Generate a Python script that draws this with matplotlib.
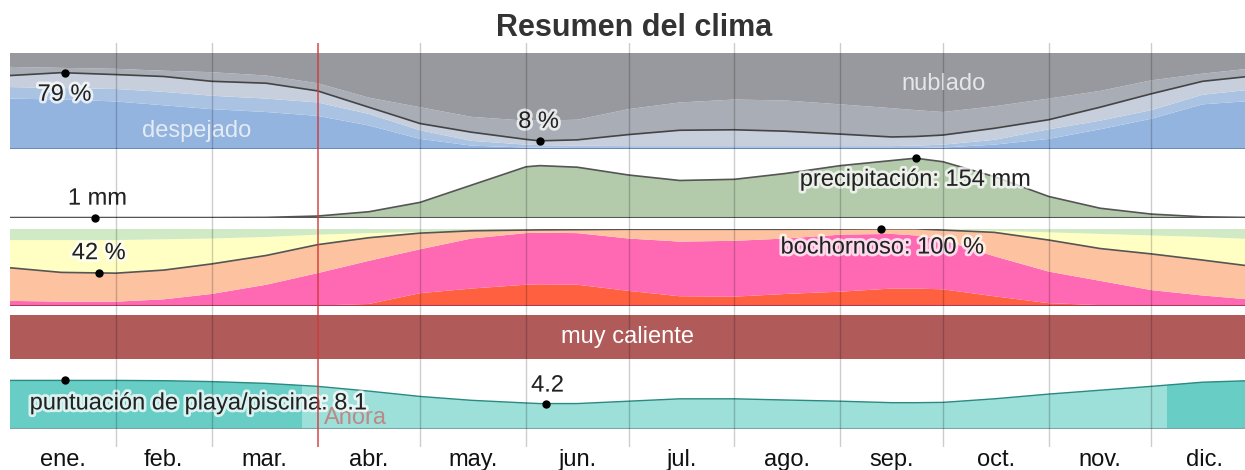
import numpy as np
import matplotlib
matplotlib.use('Agg')
import matplotlib.pyplot as plt
import matplotlib.patheffects as pe
from matplotlib.patches import Rectangle

plt.rcParams['font.family'] = ['Liberation Sans', 'DejaVu Sans']

# dias del año donde se leyeron los valores
days = [0, 15, 31, 45, 59, 75, 90, 105, 120, 135, 151, 155, 166, 181, 196, 212,
        227, 243, 258, 265, 273, 288, 304, 319, 334, 349, 365]

# nubes: limites superiores de cada capa (%)
cloud_clear = [52, 51, 49, 45, 41, 38, 34, 24, 10, 3, 1, 0.8, 0.5, 0.5, 0.5, 0.5,
               0.5, 0.5, 0.5, 0.5, 1, 4, 10, 20, 31, 46, 50]
cloud_mostly_clear = [64, 63, 62, 59, 55, 52, 48, 36, 19, 8, 4, 3.5, 3, 2.5, 2.5, 2.5,
                      2.5, 2.5, 2.5, 3, 4, 9, 20, 29, 40, 56, 62]
cloud_partly = [76, 79, 77, 75, 70, 68, 60, 43, 26, 17, 9.5, 8, 9, 14.5, 19, 19.5,
                18, 15, 12, 12.5, 14, 21, 30, 43, 57, 70, 76]
cloud_mostly_cloudy = [85, 84, 83, 81, 79.5, 76, 68, 53, 43, 33, 29, 29, 30, 41, 48, 51,
                       50, 46, 42, 40, 38, 44, 52, 60, 71, 78, 84]

# precipitacion (mm, 31 dias)
rain = [1, 1, 1, 1, 1, 1.5, 5, 16, 40, 84, 131, 134, 130, 110, 96, 99,
        114, 134, 147, 153, 144, 106, 55, 25, 10, 3, 1]

# humedad: limites superiores (%)
hum_miserable = [0, 0, 0, 0, 0, 0, 0, 2, 16, 22, 27, 27.5, 27, 19, 12, 11.5,
                 15, 18, 22, 22, 21, 12, 3, 0.5, 0, 0, 0]
hum_oppressive = [6, 5, 5, 8, 15, 27, 42, 58, 73, 87, 94, 94.5, 94, 87, 83, 84,
                  87, 92, 93, 91, 85, 64, 44, 32, 20, 13, 7]
hum_muggy = [49, 43, 42, 46, 54, 65, 79, 88, 94, 97, 98, 98.2, 98.5, 99, 99, 99,
             99, 99.3, 99.6, 99.6, 98, 95, 85, 74, 67, 59, 50]
hum_comfortable = [85, 85, 85, 86, 87, 89, 92, 94, 95.5, 97, 99.5, 99.5, 99.5, 99.5, 99.5, 99.5,
                   99.5, 99.5, 99.5, 99.5, 99, 97, 95, 93, 91, 89, 86]

# puntuacion de playa/piscina
beach = [8.1, 8.1, 8.1, 8.05, 7.9, 7.6, 7.1, 6.3, 5.4, 4.75, 4.3, 4.2, 4.2, 4.6, 5.0, 5.0,
         4.8, 4.6, 4.35, 4.35, 4.4, 5.0, 5.8, 6.45, 7.1, 7.8, 8.1]
beach_best = [(0, 85.5), (338.6, 365)]

months = ['ene.', 'feb.', 'mar.', 'abr.', 'may.', 'jun.', 'jul.', 'ago.',
          'sep.', 'oct.', 'nov.', 'dic.']
month_len = [31, 28, 31, 30, 31, 30, 31, 31, 30, 31, 30, 31]
today = 90

W, H = 1245, 470
XMAX = (1245 - 10.07) / 3.417

fig = plt.figure(figsize=(W / 100, H / 100), dpi=100)


def panel(top, bottom):
    ax = fig.add_axes([10 / W, 1 - bottom / H, (W - 10) / W, (bottom - top) / H])
    ax.set_xlim(0, XMAX)
    ax.set_axis_off()
    return ax


halo = [pe.withStroke(linewidth=4, foreground=(1, 1, 1, 0.75))]


def label(ax, x, y, txt, dx, dy, ha='center'):
    ax.plot(x, y, 'o', color='black', ms=5, zorder=6, clip_on=False)
    ax.annotate(txt, (x, y), xytext=(dx, dy), textcoords='offset pixels',
                ha=ha, va='center', fontsize=17, color='#222222',
                path_effects=halo, zorder=7)


# --- nubes
ax1 = panel(52.5, 148.5)
ax1.set_ylim(0, 100)
ax1.fill_between(days, 0, cloud_clear, color='#93b4df', lw=0)
ax1.fill_between(days, cloud_clear, cloud_mostly_clear, color='#abc3e3', lw=0)
ax1.fill_between(days, cloud_mostly_clear, cloud_partly, color='#c7cfdc', lw=0)
ax1.fill_between(days, cloud_partly, cloud_mostly_cloudy, color='#a9adb5', lw=0)
ax1.fill_between(days, cloud_mostly_cloudy, 100, color='#97999e', lw=0)
ax1.plot(days, cloud_partly, color='#444444', lw=1.2)
ax1.axhline(0, color='#5f7fb5', lw=2)
label(ax1, 16, 79, '79 %', 0, -22)
label(ax1, 155, 8, '8 %', -1, 19)
ax1.text(54.7, 18.7, 'despejado', ha='center', va='center', fontsize=17, color='#e4ebf5')
ax1.text(273.3, 67.7, 'nublado', ha='center', va='center', fontsize=17, color='#e6e6e8')

# --- precipitacion
ax2 = panel(150, 218)
ax2.set_ylim(0, 174)
ax2.fill_between(days, 0, rain, color='#b3cbab', lw=0)
ax2.plot(days, rain, color='#555555', lw=1.2)
ax2.axhline(0, color='#555555', lw=1.5)
label(ax2, 25, 1, '1 mm', 2, 19)
label(ax2, 265, 154, 'precipitación: 154 mm', 0, -22)

# --- humedad
ax3 = panel(228.5, 305.5)
ax3.set_ylim(0, 100)
ax3.fill_between(days, 0, hum_miserable, color='#ff6040', lw=0)
ax3.fill_between(days, hum_miserable, hum_oppressive, color='#ff69b4', lw=0)
ax3.fill_between(days, hum_oppressive, hum_muggy, color='#fdc2a0', lw=0)
ax3.fill_between(days, hum_muggy, hum_comfortable, color='#ffffc4', lw=0)
ax3.fill_between(days, hum_comfortable, 100, color='#cfeac4', lw=0)
ax3.plot(days, hum_muggy, color='#555555', lw=1.2)
ax3.axhline(0, color='#b03a5a', lw=1.5)
label(ax3, 26, 42, '42 %', 0, 20)
label(ax3, 255, 100, 'bochornoso: 100 %', 1, -19)

# --- temperatura
ax4 = panel(315, 359)
ax4.set_ylim(0, 1)
ax4.axhspan(0, 1, color='#b05b5a')
ax4.text(XMAX / 2, 0.5, 'muy caliente', ha='center', va='center', fontsize=17, color='white')

# --- playa
ax5 = panel(362, 428.5)
ax5.set_ylim(0, 11.2)
ax5.fill_between(days, 0, beach, color='#9ddfd9', lw=0)
for a, b in beach_best:
    poly = ax5.fill_between(days, 0, beach, color='#67cdc5', lw=0)
    poly.set_clip_path(Rectangle((a, 0), b - a, 12, transform=ax5.transData))
ax5.plot(days, beach, color='#2a8a82', lw=1)
ax5.axhline(0, color='#7aa9a5', lw=1.5)
label(ax5, 16, 8.1, 'puntuación de playa/piscina: 8.1', -35, -23, ha='left')
label(ax5, 157, 4.2, '4.2', 1, 18)
ax5.text(today + 2, 1.8, 'Ahora', ha='left', va='center', fontsize=17,
         color='#d05050', alpha=0.6)

# --- lineas de meses y etiquetas
axg = panel(43, 447)
axg.set_ylim(0, 1)
starts = np.cumsum([0] + month_len)
for d in starts[1:-1]:
    if d == today:
        continue
    axg.axvline(d, color='black', alpha=0.2, lw=1)
axg.axvline(today, color='#d03a3a', alpha=0.85, lw=1.2)
for i, m in enumerate(months):
    mid = starts[i] + month_len[i] / 2
    axg.text(mid, -0.032, m, ha='center', va='center', fontsize=17, color='#111111',
             clip_on=False)

fig.text(634.5 / W, 1 - 28 / H, 'Resumen del clima', ha='center', va='center',
         fontsize=22, fontweight='bold', color='#333333')

fig.savefig('out.png', dpi=100)
